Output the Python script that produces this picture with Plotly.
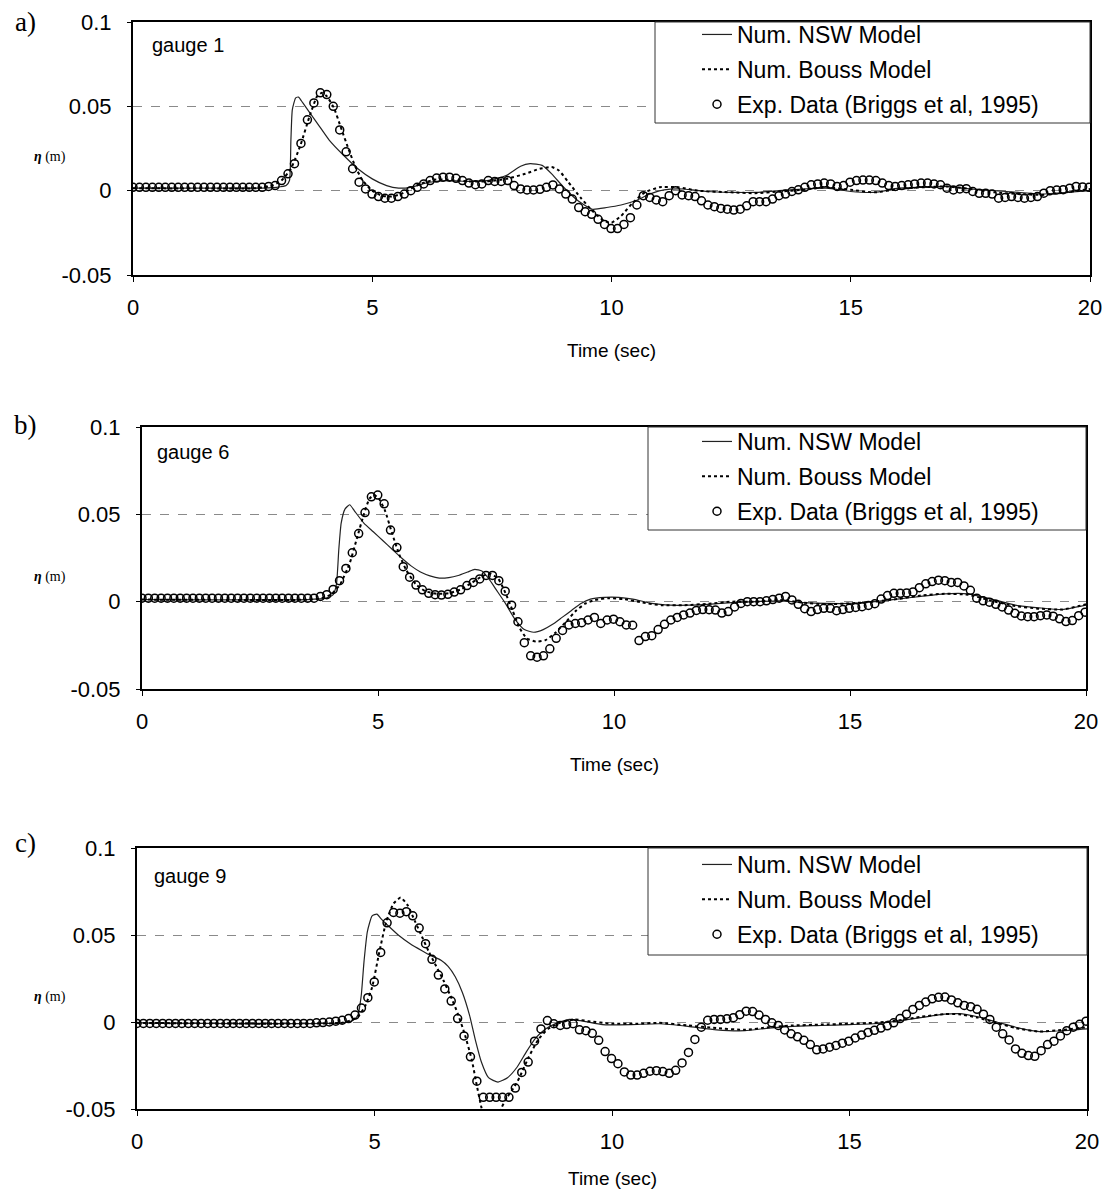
import numpy as np
import plotly.graph_objects as go

W, H = 1109, 1193
SANS = "Liberation Sans, Arial, sans-serif"
SERIF = "Liberation Serif, Times New Roman, serif"

# ---------------- data ----------------
EXP_DT = 0.135  # spacing of the experimental record (s)

exp_a = [0.002, 0.002, 0.002, 0.002, 0.002, 0.002, 0.002, 0.002, 0.002, 0.002,
         0.002, 0.002, 0.002, 0.002, 0.002, 0.002, 0.002, 0.002, 0.002, 0.002,
         0.002, 0.0025, 0.003, 0.006, 0.010, 0.016, 0.028, 0.042, 0.052, 0.058,
         0.057, 0.050, 0.036, 0.023, 0.013, 0.005, 0.001, -0.002, -0.0035, -0.0045,
         -0.0045, -0.0035, -0.002, 0.000, 0.002, 0.004, 0.006, 0.0075, 0.008, 0.008,
         0.0073, 0.006, 0.0045, 0.0035, 0.004, 0.006, 0.0055, 0.0055, 0.006, 0.003,
         0.001, 0.0004, 0.0004, 0.0008, 0.002, 0.0034, 0.001, -0.002, -0.005, -0.010,
         -0.0125, -0.014, -0.017, -0.020, -0.0225, -0.0225, -0.020, -0.016, -0.0085, -0.003,
         -0.004, -0.0055, -0.0065, -0.003, 0.000, -0.0025, -0.003, -0.0035, -0.006, -0.0085,
         -0.0095, -0.0105, -0.011, -0.0115, -0.011, -0.009, -0.0065, -0.0065, -0.0065, -0.005,
         -0.003, -0.002, -0.0005, 0.0005, 0.002, 0.0035, 0.004, 0.0045, 0.004, 0.0025,
         0.003, 0.005, 0.006, 0.0063, 0.0063, 0.006, 0.0045, 0.003, 0.0025, 0.003,
         0.0035, 0.004, 0.0045, 0.0045, 0.004, 0.0035, 0.0015, 0.0004, 0.001, 0.0012,
         -0.0005, -0.0016, -0.0016, -0.002, -0.0045, -0.004, -0.0035, -0.004, -0.0045, -0.004,
         -0.0035, -0.0015, 0.000, 0.0004, 0.0006, 0.0015, 0.0025, 0.0022, 0.002]

exp_b = [0.002, 0.002, 0.002, 0.002, 0.002, 0.002, 0.002, 0.002, 0.002, 0.002,
         0.002, 0.002, 0.002, 0.002, 0.002, 0.002, 0.002, 0.002, 0.002, 0.002,
         0.002, 0.002, 0.002, 0.002, 0.002, 0.002, 0.002, 0.002, 0.003, 0.004,
         0.007, 0.012, 0.019, 0.028, 0.039, 0.051, 0.060, 0.061, 0.056, 0.041,
         0.031, 0.020, 0.014, 0.0095, 0.0068, 0.0048, 0.004, 0.0038, 0.0042, 0.0055,
         0.0068, 0.0092, 0.011, 0.013, 0.015, 0.015, 0.012, 0.006, -0.002, -0.0115,
         -0.0235, -0.031, -0.0318, -0.031, -0.027, -0.021, -0.0165, -0.0133, -0.0125, -0.012,
         -0.0105, -0.009, -0.0125, -0.0105, -0.010, -0.0115, -0.0133, -0.0135, -0.0223, -0.020,
         -0.0195, -0.016, -0.013, -0.0105, -0.009, -0.0076, -0.0065, -0.005, -0.0045, -0.0046,
         -0.0048, -0.0065, -0.0057, -0.003, -0.001, 0.0, 0.0, 0.0, 0.0005, 0.0012,
         0.002, 0.003, 0.001, -0.0015, -0.004, -0.0057, -0.0045, -0.0038, -0.0038, -0.0052,
         -0.0045, -0.0038, -0.0033, -0.0029, -0.0022, -0.0012, 0.0015, 0.0035, 0.0048, 0.0048,
         0.005, 0.0056, 0.008, 0.0102, 0.0115, 0.0123, 0.012, 0.011, 0.011, 0.009,
         0.0065, 0.002, 0.0005, -0.0003, -0.0015, -0.003, -0.0048, -0.0067, -0.0082, -0.0086,
         -0.0086, -0.008, -0.0076, -0.0083, -0.0098, -0.0114, -0.0108, -0.008, -0.006]

exp_c = [-0.0008, -0.0008, -0.0008, -0.0008, -0.0008, -0.0008, -0.0008, -0.0008, -0.0008, -0.0008,
         -0.0008, -0.0008, -0.0008, -0.0008, -0.0008, -0.0008, -0.0008, -0.0008, -0.0008, -0.0008,
         -0.0008, -0.0008, -0.0008, -0.0008, -0.0008, -0.0008, -0.0008, -0.0008, -0.0005, -0.0003,
         0.0, 0.0005, 0.001, 0.002, 0.004, 0.008, 0.014, 0.023, 0.040, 0.057,
         0.063, 0.0625, 0.0634, 0.061, 0.054, 0.045, 0.036, 0.027, 0.019, 0.012,
         0.002, -0.008, -0.020, -0.034, -0.0433, -0.0433, -0.0433, -0.0433, -0.0433, -0.038,
         -0.029, -0.023, -0.011, -0.004, 0.0008, -0.001, -0.002, -0.0015, -0.001, -0.0045,
         -0.005, -0.0065, -0.0105, -0.017, -0.021, -0.024, -0.0287, -0.0305, -0.0305, -0.0295,
         -0.0283, -0.028, -0.0285, -0.0295, -0.0278, -0.0235, -0.0175, -0.010, -0.003, 0.001,
         0.0015, 0.0015, 0.0018, 0.0025, 0.0042, 0.0062, 0.006, 0.004, 0.0015, -0.0005,
         -0.002, -0.0046, -0.0068, -0.0085, -0.0105, -0.013, -0.016, -0.0155, -0.0145, -0.0135,
         -0.0122, -0.011, -0.0092, -0.0075, -0.006, -0.0048, -0.0035, -0.0022, -0.0005, 0.002,
         0.0045, 0.0072, 0.0095, 0.0115, 0.0133, 0.0142, 0.0143, 0.0127, 0.011, 0.0095,
         0.0088, 0.0073, 0.0045, 0.0015, -0.003, -0.0068, -0.0103, -0.0155, -0.018, -0.0193,
         -0.0197, -0.0165, -0.013, -0.011, -0.008, -0.005, -0.003, -0.0013, 0.0005]

nsw_t_a = [0, 2.5, 3.0, 3.2, 3.27, 3.30, 3.33, 3.40, 3.46, 3.55, 3.70, 3.9, 4.1, 4.4, 4.7,
           5.0, 5.3, 5.55, 5.8, 6.2, 6.6, 7.0, 7.4, 7.8, 8.1, 8.3, 8.55, 8.75, 9.0, 9.3,
           9.6, 9.9, 10.2, 10.5, 10.8, 11.1, 11.5, 12.0, 12.5, 13.0, 13.5, 14.0, 14.5, 15.0,
           15.5, 16.0, 16.5, 17.0, 17.5, 18.0, 18.5, 19.0, 19.5, 20.0]
nsw_a = [0.0015, 0.0015, 0.002, 0.003, 0.006, 0.03, 0.048, 0.055, 0.0555, 0.052, 0.046, 0.038,
         0.030, 0.021, 0.013, 0.007, 0.003, 0.0015, 0.002, 0.005, 0.006, 0.0055, 0.006, 0.009,
         0.0145, 0.016, 0.015, 0.010, 0.002, -0.006, -0.011, -0.010, -0.0085, -0.006, -0.002,
         0.0005, 0.001, -0.0005, -0.001, -0.001, 0.0, 0.001, 0.0015, -0.0005, -0.001, 0.0015,
         0.002, 0.0025, 0.001, 0.0, -0.001, -0.002, -0.001, 0.0]

bouss_t_a = [0, 2.6, 2.9, 3.1, 3.3, 3.5, 3.7, 3.85, 3.95, 4.05, 4.2, 4.35, 4.5, 4.65, 4.8,
             5.0, 5.2, 5.4, 5.6, 5.8, 6.0, 6.3, 6.6, 7.0, 7.4, 7.8, 8.2, 8.5, 8.75, 8.9,
             9.1, 9.35, 9.6, 9.85, 10.0, 10.2, 10.45, 10.7, 11.0, 11.4, 11.8, 12.5, 13.0,
             13.5, 14.0, 14.5, 15.0, 15.5, 16.0, 16.5, 17.0, 17.5, 18.0, 18.5, 19.0, 19.5, 20.0]
bouss_a = [0.0015, 0.0015, 0.003, 0.006, 0.013, 0.027, 0.045, 0.056, 0.058, 0.056, 0.049,
           0.037, 0.025, 0.014, 0.006, 0.0, -0.003, -0.0035, -0.002, 0.001, 0.004, 0.0065,
           0.0065, 0.0055, 0.0055, 0.007, 0.010, 0.013, 0.014, 0.012, 0.005, -0.004, -0.012,
           -0.018, -0.019, -0.015, -0.007, -0.001, 0.002, 0.002, 0.0, -0.001, -0.0015, -0.0005,
           0.0005, 0.002, 0.0005, -0.001, 0.001, 0.002, 0.0025, 0.001, -0.001, -0.002, -0.0025,
           -0.001, 0.001]

nsw_t_b = [0, 3.5, 3.9, 4.05, 4.12, 4.17, 4.22, 4.3, 4.4, 4.5, 4.7, 4.9, 5.1, 5.3, 5.5, 5.7,
           5.9, 6.1, 6.3, 6.5, 6.7, 6.9, 7.05, 7.2, 7.35, 7.5, 7.7, 7.9, 8.1, 8.3, 8.5, 8.7,
           8.9, 9.1, 9.3, 9.5, 9.8, 10.1, 10.4, 10.8, 11.2, 11.6, 12.0, 12.5, 13.0, 13.5, 14.0,
           14.5, 15.0, 15.5, 16.0, 16.5, 17.0, 17.5, 18.0, 18.5, 19.0, 19.5, 20.0]
nsw_b = [0.0012, 0.0012, 0.002, 0.004, 0.010, 0.030, 0.045, 0.053, 0.0555, 0.052, 0.045, 0.040,
         0.035, 0.030, 0.025, 0.0205, 0.017, 0.0148, 0.0135, 0.0138, 0.015, 0.017, 0.0185,
         0.0175, 0.013, 0.007, -0.001, -0.010, -0.016, -0.0175, -0.016, -0.013, -0.009, -0.005,
         -0.001, 0.0015, 0.0025, 0.0025, 0.0015, -0.001, -0.002, -0.002, -0.0015, -0.0005, 0.0,
         0.0005, -0.0005, -0.001, -0.001, 0.0, 0.0015, 0.003, 0.0045, 0.0045, 0.0015, -0.002,
         -0.0035, -0.0045, -0.002]

bouss_t_b = [0, 3.6, 3.8, 4.0, 4.2, 4.4, 4.55, 4.7, 4.82, 4.92, 5.02, 5.15, 5.3, 5.45, 5.6,
             5.8, 6.0, 6.25, 6.5, 6.75, 7.0, 7.2, 7.38, 7.55, 7.7, 7.85, 8.0, 8.15, 8.35, 8.55,
             8.75, 9.0, 9.2, 9.4, 9.6, 9.9, 10.2, 10.6, 11.0, 11.5, 12.0, 12.5, 13.0, 13.5,
             14.0, 14.5, 15.0, 15.5, 16.0, 16.5, 17.0, 17.5, 18.0, 18.5, 19.0, 19.5, 20.0]
bouss_b = [0.0012, 0.0012, 0.002, 0.004, 0.010, 0.022, 0.036, 0.050, 0.059, 0.061, 0.059,
           0.052, 0.039, 0.027, 0.018, 0.010, 0.006, 0.0045, 0.0048, 0.007, 0.011, 0.0145,
           0.016, 0.013, 0.005, -0.005, -0.015, -0.021, -0.0229, -0.022, -0.018, -0.011,
           -0.005, -0.001, 0.001, 0.002, 0.0015, -0.0005, -0.002, -0.002, -0.0012, 0.0, 0.0,
           0.001, -0.0005, -0.0015, -0.001, 0.0, 0.0015, 0.0035, 0.0045, 0.004, 0.0005,
           -0.0025, -0.004, -0.0045, -0.0015]

nsw_t_c = [0, 4.3, 4.55, 4.65, 4.72, 4.78, 4.85, 4.95, 5.05, 5.15, 5.3, 5.5, 5.75, 6.0, 6.2,
           6.4, 6.55, 6.7, 6.85, 7.0, 7.12, 7.25, 7.4, 7.6, 7.8, 8.0, 8.2, 8.4, 8.6, 8.8, 9.1,
           9.4, 9.8, 10.4, 11.0, 11.6, 12.2, 12.8, 13.3, 13.8, 14.4, 15.0, 15.5, 16.0, 16.5,
           17.0, 17.3, 17.7, 18.1, 18.5, 19.0, 19.5, 20.0]
nsw_c = [-0.0005, -0.0005, 0.001, 0.004, 0.015, 0.035, 0.052, 0.061, 0.062, 0.059, 0.055, 0.050,
         0.045, 0.041, 0.038, 0.0355, 0.032, 0.026, 0.017, 0.004, -0.010, -0.023, -0.032,
         -0.0345, -0.032, -0.026, -0.017, -0.009, -0.004, -0.001, 0.0015, 0.0005, -0.0015,
         -0.0015, -0.001, -0.0025, -0.0045, -0.005, -0.0035, -0.0025, -0.002, -0.0015, -0.001,
         0.0005, 0.0025, 0.0045, 0.0048, 0.003, 0.0, -0.003, -0.0055, -0.005, -0.004]

bouss_t_c = [0, 4.3, 4.5, 4.65, 4.8, 4.95, 5.1, 5.25, 5.4, 5.55, 5.7, 5.85, 6.0, 6.15, 6.3,
             6.45, 6.6, 6.75, 6.9, 7.05, 7.15, 7.25, 7.32, 7.5, 7.62, 7.68, 7.8, 7.95, 8.05,
             8.25, 8.45, 8.65, 8.9, 9.2, 9.5, 10.0, 10.5, 11.0, 11.6, 12.2, 12.8, 13.3, 13.8,
             14.4, 15.0, 15.5, 16.0, 16.5, 17.0, 17.3, 17.7, 18.1, 18.5, 19.0, 19.5, 20.0]
bouss_c = [-0.0005, -0.0005, 0.001, 0.003, 0.009, 0.020, 0.040, 0.058, 0.068, 0.0715, 0.067,
           0.058, 0.049, 0.040, 0.032, 0.024, 0.015, 0.005, -0.007, -0.022, -0.036, -0.049,
           -0.056, -0.060, -0.056, -0.049, -0.043, -0.037, -0.032, -0.020, -0.010, -0.004,
           -0.0005, 0.0015, 0.0005, -0.001, -0.001, -0.0005, -0.002, -0.0035, -0.0045, -0.003,
           -0.002, -0.0015, -0.001, -0.0005, 0.0008, 0.003, 0.0045, 0.0045, 0.0025, -0.0005,
           -0.0035, -0.0055, -0.0045, -0.003]

x_ticks = [0, 5, 10, 15, 20]
x_ticktext = ["0", "5", "10", "15", "20"]
y_ticks = [-0.05, 0, 0.05, 0.1]
y_ticktext = ["-0.05", "0", "0.05", "0.1"]

series_names = ["Num. NSW Model", "Num. Bouss Model", "Exp. Data (Briggs et al, 1995)"]
panel_labels = ["a)", "b)", "c)"]
gauge_labels = ["gauge 1", "gauge 6", "gauge 9"]
x_title = "Time (sec)"
y_title = "<b><i>η</i></b> (m)"

# ---------------- layout geometry (pixels) ----------------
panels = [
    dict(exp=exp_a, nt=nsw_t_a, nv=nsw_a, bt=bouss_t_a, bv=bouss_a,
         px=(133, 1090), py=(22, 275), box=(655, 22, 1090, 123), leg_top=13,
         lab=(25, 22), gauge=(150, 45), ytit=(50, 157), xtit=(611, 350)),
    dict(exp=exp_b, nt=nsw_t_b, nv=nsw_b, bt=bouss_t_b, bv=bouss_b,
         px=(142, 1086), py=(427, 689), box=(648, 427, 1086, 530), leg_top=420,
         lab=(25, 425), gauge=(155, 452), ytit=(50, 577), xtit=(614, 765)),
    dict(exp=exp_c, nt=nsw_t_c, nv=nsw_c, bt=bouss_t_c, bv=bouss_c,
         px=(137, 1087), py=(848, 1109), box=(648, 848, 1087, 955), leg_top=843,
         lab=(25, 843), gauge=(152, 876), ytit=(50, 997), xtit=(612, 1178)),
]


def px2x(v):
    return v / W


def px2y(v):
    return 1 - v / H


fig = go.Figure()
layout = dict(width=W, height=H, margin=dict(l=0, r=0, t=0, b=0, pad=0, autoexpand=False),
              paper_bgcolor="white", plot_bgcolor="white", showlegend=True,
              shapes=[], annotations=[])

for i, p in enumerate(panels):
    n = i + 1
    sfx = "" if n == 1 else str(n)
    xa, ya = "x" + sfx, "y" + sfx
    leg = "legend" + sfx
    t_exp = np.arange(len(p["exp"])) * EXP_DT

    fig.add_trace(go.Scatter(x=p["nt"], y=p["nv"], mode="lines", name=series_names[0],
                             line=dict(color="#222", width=1.2, shape="spline", smoothing=0.5),
                             xaxis=xa, yaxis=ya, legend=leg, legendgroup=f"{n}a"))
    fig.add_trace(go.Scatter(x=p["bt"], y=p["bv"], mode="lines", name=series_names[1],
                             line=dict(color="black", width=2, dash="dot", shape="spline", smoothing=0.5),
                             xaxis=xa, yaxis=ya, legend=leg, legendgroup=f"{n}b"))
    fig.add_trace(go.Scatter(x=t_exp, y=p["exp"], mode="markers", name=series_names[2],
                             marker=dict(symbol="circle-open", size=8, color="black",
                                         line=dict(width=1.5, color="black")),
                             xaxis=xa, yaxis=ya, legend=leg, legendgroup=f"{n}c"))

    layout["xaxis" + sfx] = dict(
        domain=[px2x(p["px"][0]), px2x(p["px"][1])], range=[0, 20], anchor=ya,
        tickvals=x_ticks, ticktext=x_ticktext, ticks="outside", ticklen=5, tickcolor="black",
        showline=True, linecolor="black", linewidth=2, mirror=True, showgrid=False,
        zeroline=False, tickfont=dict(family=SANS, size=22, color="black"),
        ticklabelstandoff=7, automargin=False)
    layout["yaxis" + sfx] = dict(
        domain=[px2y(p["py"][1]), px2y(p["py"][0])], range=[-0.05, 0.1], anchor=xa,
        tickvals=y_ticks, ticktext=y_ticktext, ticks="outside", ticklen=4, tickcolor="black",
        showline=True, linecolor="black", linewidth=2, mirror=True, showgrid=True,
        gridcolor="#8a8a8a", griddash="dash", gridwidth=1, zeroline=False,
        tickfont=dict(family=SANS, size=22, color="black"), ticklabelstandoff=11,
        automargin=False)

    bx0, by0, bx1, by1 = p["box"]
    layout["shapes"].append(dict(type="rect", xref="paper", yref="paper", layer="above",
                                 x0=px2x(bx0), x1=px2x(bx1), y0=px2y(by1), y1=px2y(by0),
                                 fillcolor="white", line=dict(color="#333", width=1)))

    layout[leg] = dict(x=px2x(697), y=px2y(p["leg_top"]), xanchor="left", yanchor="top",
                       bgcolor="rgba(0,0,0,0)", borderwidth=0, traceorder="grouped",
                       tracegroupgap=2, itemwidth=30,
                       font=dict(family=SANS, size=23, color="black"))

    layout["annotations"] += [
        dict(text=panel_labels[i], x=px2x(p["lab"][0]), y=px2y(p["lab"][1]), xref="paper",
             yref="paper", showarrow=False, xanchor="center", yanchor="middle",
             font=dict(family=SERIF, size=27, color="black")),
        dict(text=gauge_labels[i], x=px2x(p["gauge"][0]), y=px2y(p["gauge"][1]), xref="paper",
             yref="paper", showarrow=False, xanchor="left", yanchor="middle",
             font=dict(family=SANS, size=20, color="black")),
        dict(text=y_title, x=px2x(p["ytit"][0]), y=px2y(p["ytit"][1]), xref="paper",
             yref="paper", showarrow=False, xanchor="center", yanchor="middle",
             font=dict(family=SERIF, size=14, color="black")),
        dict(text=x_title, x=px2x(p["xtit"][0]), y=px2y(p["xtit"][1]), xref="paper",
             yref="paper", showarrow=False, xanchor="center", yanchor="middle",
             font=dict(family=SANS, size=19, color="black")),
    ]

fig.update_layout(**layout)
# the page body has a default 8px margin; remove it so the figure fills the window exactly
fig.write_html("out.html", config={"displayModeBar": False},
               post_script="document.body.style.margin='0px';")
